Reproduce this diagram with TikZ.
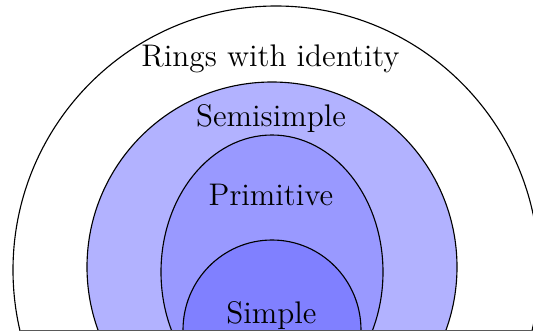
\documentclass[tikz,border=0pt]{standalone}
\begin{document}
\begin{tikzpicture}[x=0.4pt,y=0.4pt,
  ring/.style={draw=black,line width=0.45pt},
  lbl/.style={anchor=base,inner sep=0pt,font=\fontsize{12.5}{15}\selectfont}]
\useasboundingbox (0,0) rectangle (533,335);
\begin{scope}
  \clip (0,4.5) rectangle (533,340);
  \draw[ring,fill=white] (276,65) ellipse [x radius=263,y radius=264];
  \draw[ring,fill=blue!30] (272,68) ellipse [x radius=185,y radius=185];
  \draw[ring,fill=blue!40] (272,63) ellipse [x radius=111,y radius=137];
  \draw[ring,fill=blue!50] (272,5) ellipse [x radius=89,y radius=90];
\end{scope}
\coordinate (bl) at (19.5,4.5);
\coordinate (br) at (533,4.5);
\draw[line width=0.6pt,draw=black!65] (bl) -- (br);
\node[lbl] (rings) at (270.5,268.3) {Rings with identity};
\node[lbl] (semi) at (271,208.3) {Semisimple};
\node[lbl] (prim) at (271,130) {Primitive};
\node[lbl] (simple) at (271.5,11.7) {Simple};
\end{tikzpicture}
\end{document}
